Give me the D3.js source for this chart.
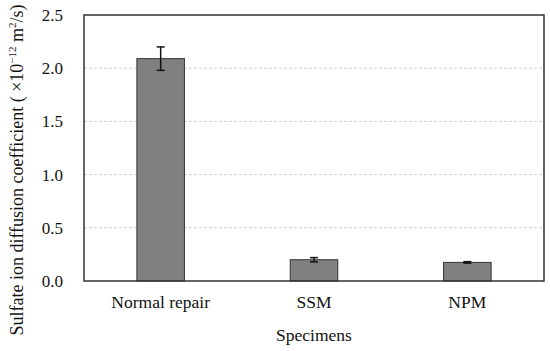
<!DOCTYPE html>
<html><head><meta charset="utf-8">
<script src="https://cdn.jsdelivr.net/npm/d3@7"></script>
</head><body style="margin:0;background:#fff"><svg id="c" width="550" height="351"></svg>
<script>
const categories = ["Normal repair", "SSM", "NPM"];
const values = [2.09, 0.20, 0.175];
const errors = [0.11, 0.02, 0.007];
const yTicks = [0, 0.5, 1.0, 1.5, 2.0, 2.5];

const FONT = "Liberation Serif";
const svg = d3.select("#c");
const m = {l: 84, r: 6, t: 15, b: 70};
const W = 550, H = 351;
const x = d3.scaleBand().domain(categories).range([m.l, W - m.r]).paddingInner(0.69).paddingOuter(0.345);
const y = d3.scaleLinear().domain([0, 2.5]).range([H - m.b, m.t]);

// gridlines
svg.append("g").selectAll("line").data(yTicks.filter(d => d > 0 && d < 2.5)).join("line")
  .attr("x1", m.l).attr("x2", W - m.r).attr("y1", d => y(d)).attr("y2", d => y(d))
  .attr("stroke", "#cfcfcf").attr("stroke-width", 1).attr("stroke-dasharray", "3,2");

// bars
svg.append("g").selectAll("rect").data(values).join("rect")
  .attr("x", (d, i) => x(categories[i])).attr("width", x.bandwidth())
  .attr("y", d => y(d)).attr("height", d => y(0) - y(d))
  .attr("fill", "#808080").attr("stroke", "#333").attr("stroke-width", 1);

// error bars
const eg = svg.append("g").attr("stroke", "#111").attr("stroke-width", 1.5);
values.forEach((v, i) => {
  const cx = x(categories[i]) + x.bandwidth() / 2;
  eg.append("line").attr("x1", cx).attr("x2", cx).attr("y1", y(v + errors[i])).attr("y2", y(v - errors[i]));
  eg.append("line").attr("x1", cx - 4).attr("x2", cx + 4).attr("y1", y(v + errors[i])).attr("y2", y(v + errors[i]));
  eg.append("line").attr("x1", cx - 4).attr("x2", cx + 4).attr("y1", y(v - errors[i])).attr("y2", y(v - errors[i]));
});

// frame
svg.append("rect").attr("x", m.l).attr("y", m.t).attr("width", W - m.r - m.l).attr("height", H - m.b - m.t)
  .attr("fill", "none").attr("stroke", "#333").attr("stroke-width", 1.5);

// y axis
const ya = svg.append("g").attr("transform", `translate(${m.l},0)`)
  .call(d3.axisLeft(y).tickValues(yTicks).tickFormat(d3.format(".1f")).tickSize(0).tickPadding(21));
ya.attr("font-family", FONT).attr("font-size", 17);
ya.select(".domain").remove();
ya.selectAll("text").attr("font-family", FONT).attr("fill", "#111");

// x axis
const xa = svg.append("g").attr("transform", `translate(0,${H - m.b})`)
  .call(d3.axisBottom(x).tickSize(0).tickPadding(15));
xa.attr("font-family", FONT).attr("font-size", 17.5);
xa.select(".domain").remove();
xa.selectAll("text").attr("font-family", FONT).attr("fill", "#111");

// x title
svg.append("text").attr("x", (m.l + W - m.r) / 2).attr("y", 341).attr("text-anchor", "middle")
  .attr("font-family", FONT).attr("font-size", 17.5).attr("fill", "#111").text("Specimens");

// y title
const yt = svg.append("text").attr("transform", "translate(23,170) rotate(-90)").attr("text-anchor", "middle")
  .attr("font-family", FONT).attr("font-size", 18).attr("fill", "#111");
yt.append("tspan").text("Sulfate ion diffusion coefficient ( ×10");
yt.append("tspan").attr("dy", -7).attr("font-size", 11).text("−12");
yt.append("tspan").attr("dy", 7).text(" m");
yt.append("tspan").attr("dy", -7).attr("font-size", 11).text("2");
yt.append("tspan").attr("dy", 7).text("/s)");
</script></body></html>
